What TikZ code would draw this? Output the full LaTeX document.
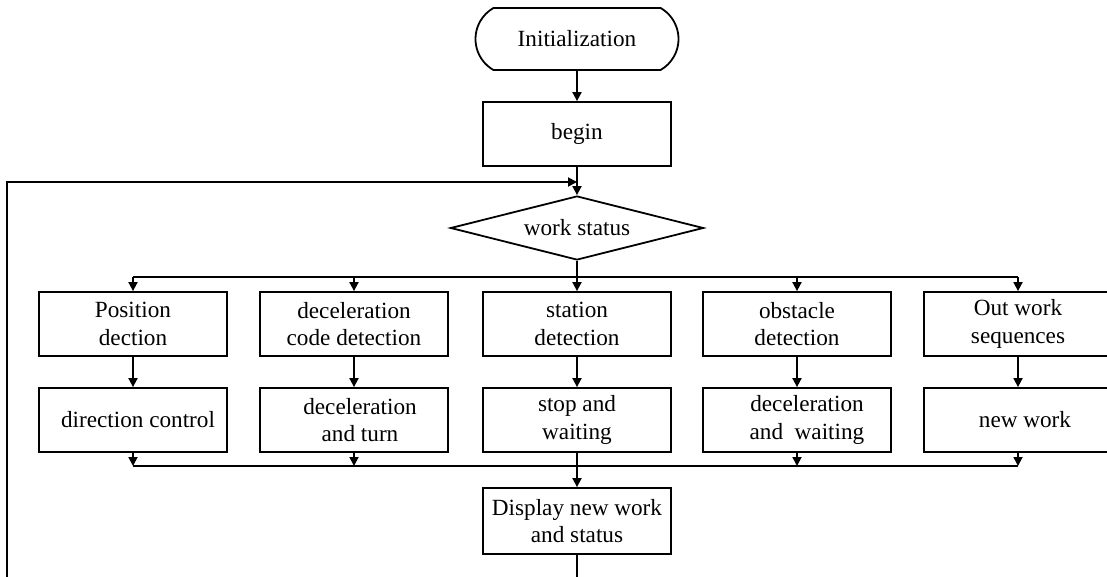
\documentclass[tikz,border=0pt]{standalone}
\usepackage{fontspec}
\setmainfont{Liberation Serif}
\usetikzlibrary{shapes.geometric,shapes.misc,arrows.meta}
\begin{document}
\begin{tikzpicture}[x=0.5pt,y=-0.5pt,
  every node/.style={font=\fontsize{11.6}{13.6}\selectfont, align=center},
  box/.style={draw, line width=0.9pt, rectangle, minimum width=94pt, minimum height=32pt, inner sep=0pt},
  conn/.style={line width=0.9pt},
  arr/.style={conn, -{Triangle[length=4.5pt,width=4.5pt]}}]
\useasboundingbox (0,0) rectangle (1107,577);
% nodes
\node[draw, line width=0.9pt, rounded rectangle, rounded rectangle arc length=120, minimum width=101.5pt, minimum height=31pt, inner sep=0pt] (init) at (577,39) {Initialization};
\node[box] (begin) at (577,134) {begin};
\node[draw, line width=0.9pt, diamond, aspect=4, minimum width=126.5pt, minimum height=32pt, inner sep=0pt] (ws) at (577,228) {work status};
\node[box] (p1) at (133,324) {Position\\dection};
\node[box] (p2) at (354,324) {deceleration\\code detection};
\node[box] (p3) at (577,324) {station\\detection};
\node[box] (p4) at (797,324) {obstacle\\detection};
\node[box] (p5) at (1018,324) {Out work\\sequences};
\node[box] (q1) at (133,420) {\hspace*{5pt}direction control};
\node[box] (q2) at (354,420) {\hspace*{6pt}deceleration\\\hspace*{6pt}and turn};
\node[box] (q3) at (577,420) {stop and\\waiting};
\node[box] (q4) at (797,420) {\hspace*{10pt}deceleration\\\hspace*{10pt}and\ \ waiting};
\node[box] (q5) at (1018,420) {\hspace*{7pt}new work};
\node[box, minimum height=33pt] (disp) at (577,521) {Display new work\\and status};
% helper coordinates
\coordinate (br) at (577,277);
\coordinate (mg) at (577,466);
\coordinate (bot) at (577,577);
\coordinate (lb) at (7,577);
\coordinate (lt) at (7,182);
\coordinate (join) at (577,182);
% connectors
\draw[arr] (init) -- (begin);
\draw[arr] (begin) -- (ws);
\draw[arr] (lb) -- (lt) -- (join);
\draw[arr] (ws) -- (p3);
\draw[conn] (p1.north |- br) -- (p5.north |- br);
\draw[arr] (p1.north |- br) -- (p1);
\draw[arr] (p2.north |- br) -- (p2);
\draw[arr] (p4.north |- br) -- (p4);
\draw[arr] (p5.north |- br) -- (p5);
\foreach \i in {1,...,5}{\draw[arr] (p\i) -- (q\i);}
\draw[arr] (q1) -- (q1.south |- mg);
\draw[arr] (q2) -- (q2.south |- mg);
\draw[arr] (q4) -- (q4.south |- mg);
\draw[arr] (q5) -- (q5.south |- mg);
\draw[conn] (q1.south |- mg) -- (q5.south |- mg);
\draw[arr] (q3) -- (disp);
\draw[conn] (disp) -- (bot);
\end{tikzpicture}
\end{document}
